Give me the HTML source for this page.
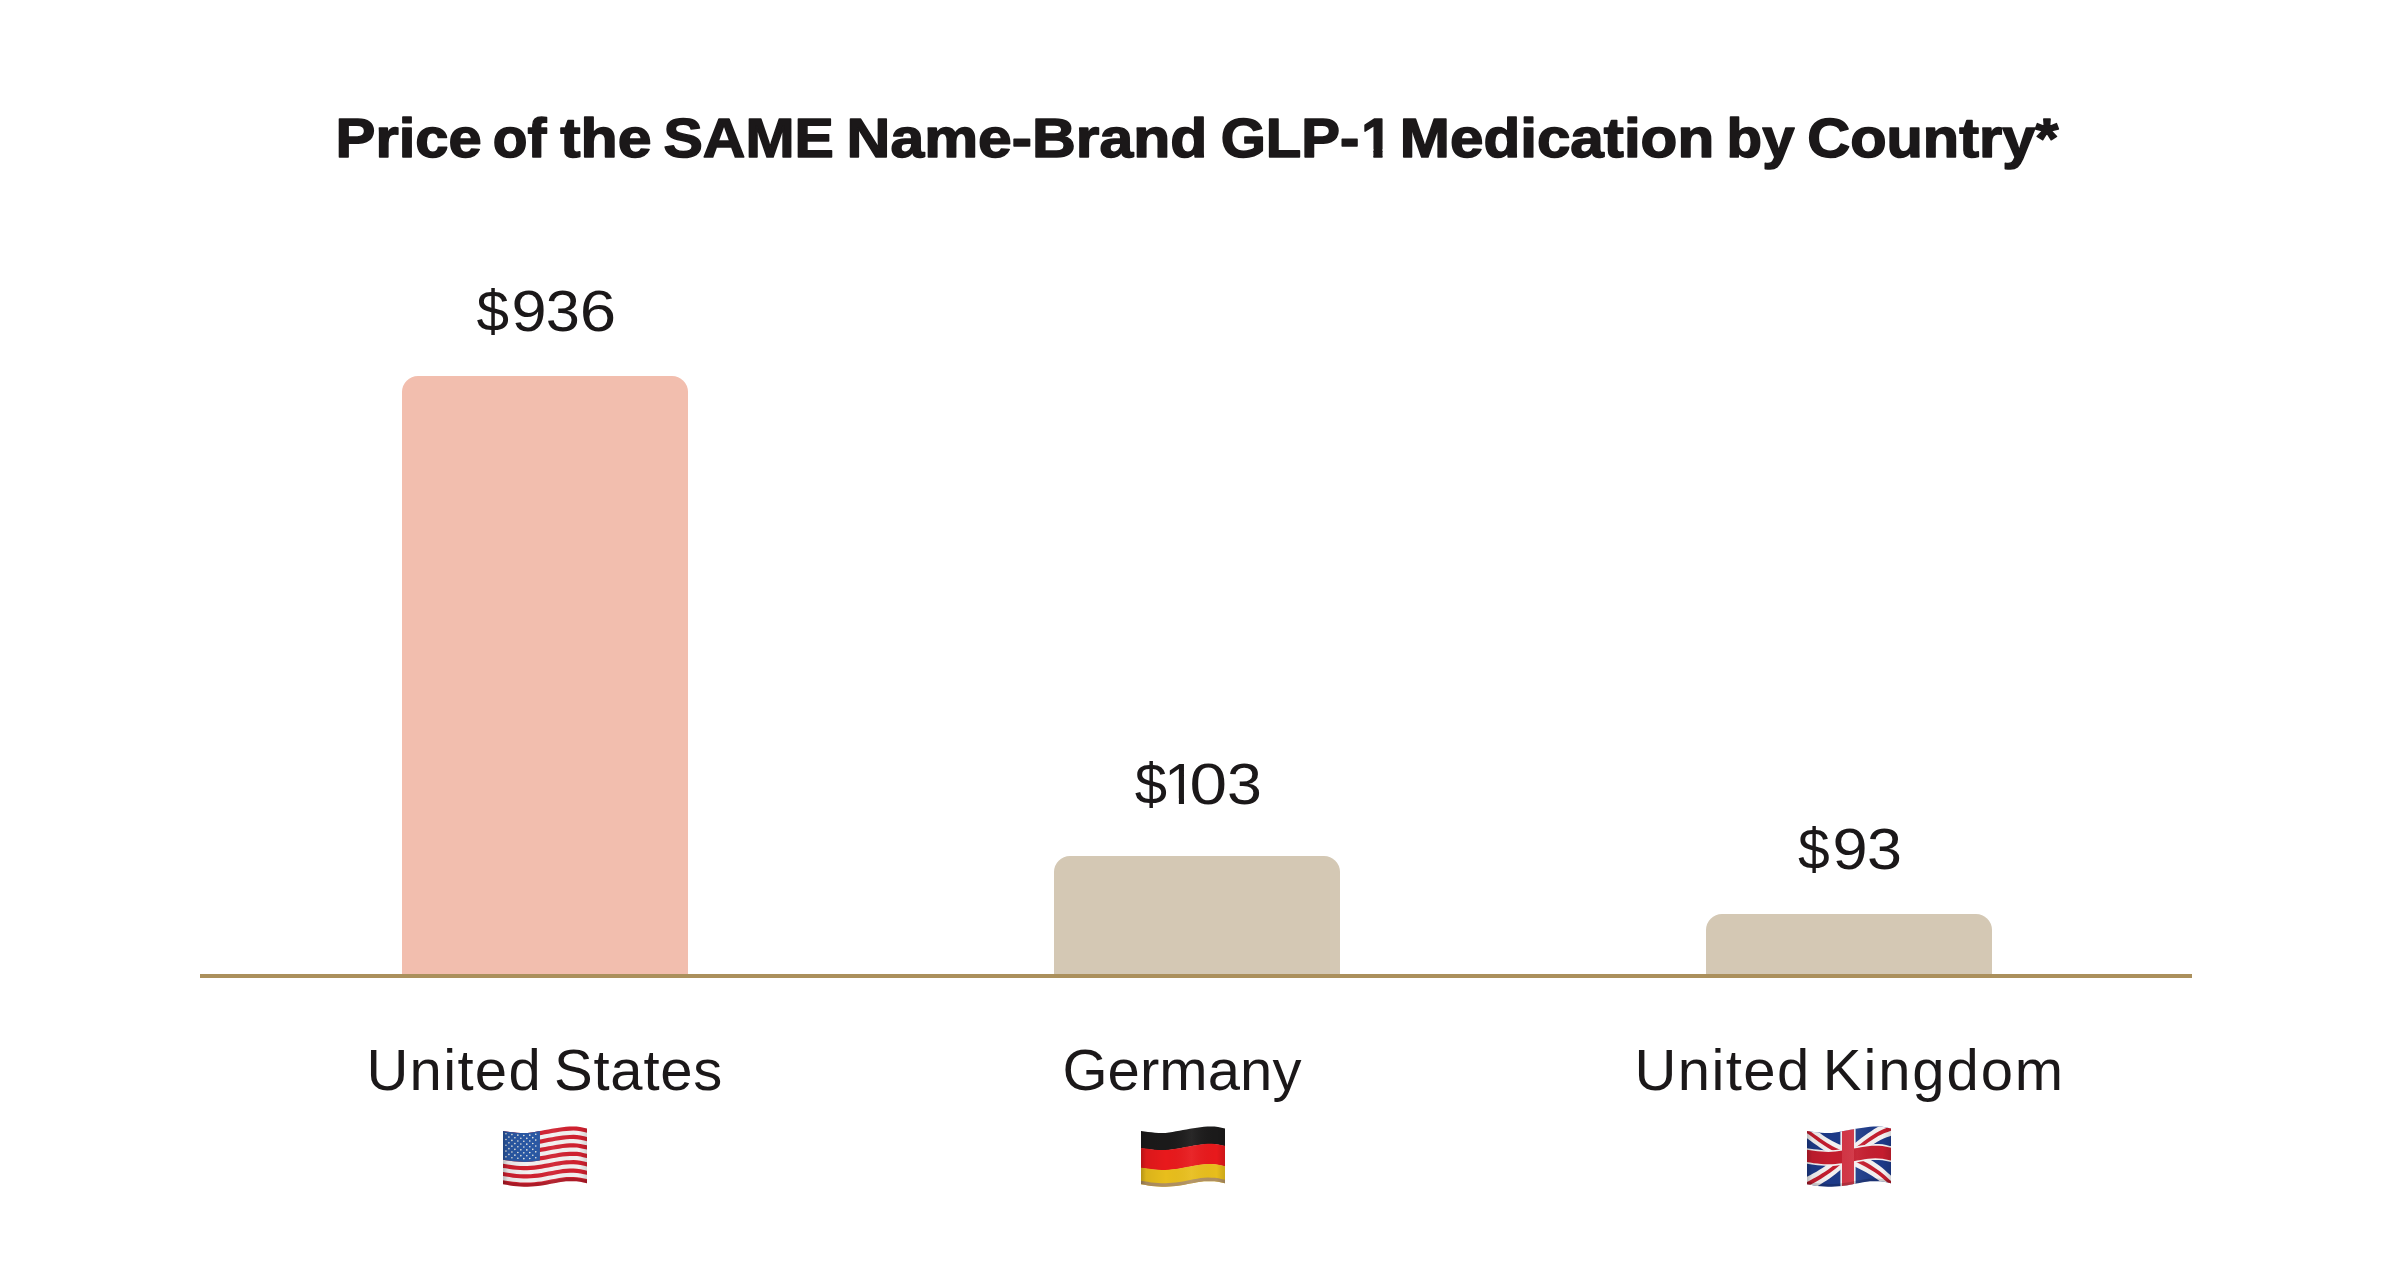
<!DOCTYPE html>
<html lang="en"><head><meta charset="utf-8"><title>Price of the SAME Name-Brand GLP-1 Medication by Country</title>
<style>
html,body{margin:0;padding:0;background:#ffffff;}
body{width:2396px;height:1282px;overflow:hidden;}
svg{display:block;}
text{font-family:"Liberation Sans",Arial,Helvetica,sans-serif;}
</style></head>
<body>
<svg width="2396" height="1282" viewBox="0 0 2396 1282">
<rect width="2396" height="1282" fill="#ffffff"/>
<defs><linearGradient id="shade" x1="0" y1="0" x2="1" y2="0"><stop offset="0" stop-color="#000" stop-opacity="0.22"/><stop offset="0.06" stop-color="#000" stop-opacity="0.06"/><stop offset="0.3" stop-color="#000" stop-opacity="0"/><stop offset="0.6" stop-color="#fff" stop-opacity="0.06"/><stop offset="0.9" stop-color="#000" stop-opacity="0"/><stop offset="1" stop-color="#000" stop-opacity="0.12"/></linearGradient><clipPath id="tc0"><path clip-rule="evenodd" d="M0 0H2396V1282H0Z M1362.5 149.3H1373.4V159.5H1362.5ZM1382.5 149.3H1393V159.5H1382.5Z"/></clipPath><clipPath id="tc1"><path clip-rule="evenodd" d="M0 0H2396V1282H0Z M1167.5 798.4H1178.88V805.5H1167.5ZM1184.01 798.4H1195V805.5H1184.01Z"/></clipPath><clipPath id="fc_us"><path d="M503 1131 L506.5 1131.47 L510 1131.95 L513.5 1132.36 L517 1132.67 L520.5 1132.94 L524 1133.07 L527.5 1132.97 L531 1132.58 L534.5 1131.99 L538 1131.34 L541.5 1130.73 L545 1130.08 L548.5 1129.43 L552 1128.8 L555.5 1128.23 L559 1127.66 L562.5 1127.17 L566 1126.81 L569.5 1126.53 L573 1126.4 L576.5 1126.47 L580 1126.92 L583.5 1127.7 L587 1128.5 L587 1132.15 L587 1135.81 L587 1139.46 L587 1143.11 L587 1146.77 L587 1150.42 L587 1154.07 L587 1157.73 L587 1161.38 L587 1165.03 L587 1168.69 L587 1172.34 L587 1175.99 L587 1179.65 L587 1183.3 L583.5 1182.56 L580 1181.83 L576.5 1181.36 L573 1181.18 L569.5 1181.16 L566 1181.32 L562.5 1181.69 L559 1182.27 L555.5 1182.95 L552 1183.6 L548.5 1184.28 L545 1184.98 L541.5 1185.59 L538 1186.03 L534.5 1186.35 L531 1186.58 L527.5 1186.69 L524 1186.68 L520.5 1186.54 L517 1186.29 L513.5 1185.93 L510 1185.44 L506.5 1184.86 L503 1184.3 L503 1180.75 L503 1177.19 L503 1173.64 L503 1170.09 L503 1166.53 L503 1162.98 L503 1159.43 L503 1155.87 L503 1152.32 L503 1148.77 L503 1145.21 L503 1141.66 L503 1138.11 L503 1134.55Z"/></clipPath><clipPath id="fc_de"><path d="M1141 1131 L1144.5 1131.47 L1148 1131.95 L1151.5 1132.36 L1155 1132.67 L1158.5 1132.94 L1162 1133.07 L1165.5 1132.97 L1169 1132.58 L1172.5 1131.99 L1176 1131.34 L1179.5 1130.73 L1183 1130.08 L1186.5 1129.43 L1190 1128.8 L1193.5 1128.23 L1197 1127.66 L1200.5 1127.17 L1204 1126.81 L1207.5 1126.53 L1211 1126.4 L1214.5 1126.47 L1218 1126.92 L1221.5 1127.7 L1225 1128.5 L1225 1132.15 L1225 1135.81 L1225 1139.46 L1225 1143.11 L1225 1146.77 L1225 1150.42 L1225 1154.07 L1225 1157.73 L1225 1161.38 L1225 1165.03 L1225 1168.69 L1225 1172.34 L1225 1175.99 L1225 1179.65 L1225 1183.3 L1221.5 1182.56 L1218 1181.83 L1214.5 1181.36 L1211 1181.18 L1207.5 1181.16 L1204 1181.32 L1200.5 1181.69 L1197 1182.27 L1193.5 1182.95 L1190 1183.6 L1186.5 1184.28 L1183 1184.98 L1179.5 1185.59 L1176 1186.03 L1172.5 1186.35 L1169 1186.58 L1165.5 1186.69 L1162 1186.68 L1158.5 1186.54 L1155 1186.29 L1151.5 1185.93 L1148 1185.44 L1144.5 1184.86 L1141 1184.3 L1141 1180.75 L1141 1177.19 L1141 1173.64 L1141 1170.09 L1141 1166.53 L1141 1162.98 L1141 1159.43 L1141 1155.87 L1141 1152.32 L1141 1148.77 L1141 1145.21 L1141 1141.66 L1141 1138.11 L1141 1134.55Z"/></clipPath><clipPath id="fc_uk"><path d="M1807 1131 L1810.5 1131.47 L1814 1131.95 L1817.5 1132.36 L1821 1132.67 L1824.5 1132.94 L1828 1133.07 L1831.5 1132.97 L1835 1132.58 L1838.5 1131.99 L1842 1131.34 L1845.5 1130.73 L1849 1130.08 L1852.5 1129.43 L1856 1128.8 L1859.5 1128.23 L1863 1127.66 L1866.5 1127.17 L1870 1126.81 L1873.5 1126.53 L1877 1126.4 L1880.5 1126.47 L1884 1126.92 L1887.5 1127.7 L1891 1128.5 L1891 1132.15 L1891 1135.81 L1891 1139.46 L1891 1143.11 L1891 1146.77 L1891 1150.42 L1891 1154.07 L1891 1157.73 L1891 1161.38 L1891 1165.03 L1891 1168.69 L1891 1172.34 L1891 1175.99 L1891 1179.65 L1891 1183.3 L1887.5 1182.56 L1884 1181.83 L1880.5 1181.36 L1877 1181.18 L1873.5 1181.16 L1870 1181.32 L1866.5 1181.69 L1863 1182.27 L1859.5 1182.95 L1856 1183.6 L1852.5 1184.28 L1849 1184.98 L1845.5 1185.59 L1842 1186.03 L1838.5 1186.35 L1835 1186.58 L1831.5 1186.69 L1828 1186.68 L1824.5 1186.54 L1821 1186.29 L1817.5 1185.93 L1814 1185.44 L1810.5 1184.86 L1807 1184.3 L1807 1180.75 L1807 1177.19 L1807 1173.64 L1807 1170.09 L1807 1166.53 L1807 1162.98 L1807 1159.43 L1807 1155.87 L1807 1152.32 L1807 1148.77 L1807 1145.21 L1807 1141.66 L1807 1138.11 L1807 1134.55Z"/></clipPath></defs>
<path d="M402 974 V392 A16 16 0 0 1 418 376 H672 A16 16 0 0 1 688 392 V974 Z" fill="#f2beae"/>
<path d="M1054 974 V872 A16 16 0 0 1 1070 856 H1324 A16 16 0 0 1 1340 872 V974 Z" fill="#d4c8b4"/>
<path d="M1706 974 V930 A16 16 0 0 1 1722 914 H1976 A16 16 0 0 1 1992 930 V974 Z" fill="#d4c8b4"/>
<rect x="200" y="974" width="1992" height="4" fill="#ab905c"/>
<text x="335.6" y="157.3" font-size="55.5" font-weight="700" fill="#1b1819" textLength="146.08" lengthAdjust="spacingAndGlyphs" stroke="#1b1819" stroke-width="1.5" stroke-linejoin="round">Price</text>
<text x="492.8" y="157.3" font-size="55.5" font-weight="700" fill="#1b1819" textLength="53.61" lengthAdjust="spacingAndGlyphs" stroke="#1b1819" stroke-width="1.5" stroke-linejoin="round">of</text>
<text x="560.2" y="157.3" font-size="55.5" font-weight="700" fill="#1b1819" textLength="91.31" lengthAdjust="spacingAndGlyphs" stroke="#1b1819" stroke-width="1.5" stroke-linejoin="round">the</text>
<text x="663.6" y="157.3" font-size="55.5" font-weight="700" fill="#1b1819" textLength="170.16" lengthAdjust="spacingAndGlyphs" stroke="#1b1819" stroke-width="1.5" stroke-linejoin="round">SAME</text>
<text x="846.6" y="157.3" font-size="55.5" font-weight="700" fill="#1b1819" textLength="360.7" lengthAdjust="spacingAndGlyphs" stroke="#1b1819" stroke-width="1.5" stroke-linejoin="round">Name-Brand</text>
<text y="157.3" font-size="55.5" font-weight="700" fill="#1b1819" stroke="#1b1819" stroke-width="1.5" stroke-linejoin="round" clip-path="url(#tc0)"><tspan x="1220.7" textLength="138.68" lengthAdjust="spacingAndGlyphs">GLP-</tspan><tspan x="1361.2">1</tspan></text>
<text x="1399.8" y="157.3" font-size="55.5" font-weight="700" fill="#1b1819" textLength="314.35" lengthAdjust="spacingAndGlyphs" stroke="#1b1819" stroke-width="1.5" stroke-linejoin="round">Medication</text>
<text x="1726.6" y="157.3" font-size="55.5" font-weight="700" fill="#1b1819" textLength="67.9" lengthAdjust="spacingAndGlyphs" stroke="#1b1819" stroke-width="1.5" stroke-linejoin="round">by</text>
<text x="1807.2" y="157.3" font-size="55.5" font-weight="700" fill="#1b1819" textLength="251.22" lengthAdjust="spacingAndGlyphs" stroke="#1b1819" stroke-width="1.5" stroke-linejoin="round">Country*</text>
<text y="330.5" font-size="58" font-weight="400" fill="#1b1819"><tspan x="476.5" textLength="32.53" lengthAdjust="spacingAndGlyphs">$</tspan><tspan x="511.4" textLength="35.1" lengthAdjust="spacingAndGlyphs">9</tspan><tspan x="545.8" textLength="34.13" lengthAdjust="spacingAndGlyphs">3</tspan><tspan x="579.7" textLength="36.38" lengthAdjust="spacingAndGlyphs">6</tspan></text>
<text y="804" font-size="58" font-weight="400" fill="#1b1819" clip-path="url(#tc1)"><tspan x="1134.7" textLength="32.26" lengthAdjust="spacingAndGlyphs">$</tspan><tspan x="1164.3">1</tspan><tspan x="1189.4" textLength="37.55" lengthAdjust="spacingAndGlyphs">0</tspan><tspan x="1227" textLength="34.89" lengthAdjust="spacingAndGlyphs">3</tspan></text>
<text y="868.5" font-size="58" font-weight="400" fill="#1b1819"><tspan x="1798" textLength="31.71" lengthAdjust="spacingAndGlyphs">$</tspan><tspan x="1832.6" textLength="35.1" lengthAdjust="spacingAndGlyphs">9</tspan><tspan x="1867" textLength="34.97" lengthAdjust="spacingAndGlyphs">3</tspan></text>
<text x="366.4" y="1090" font-size="58" font-weight="400" fill="#1b1819" textLength="174.28" lengthAdjust="spacing">United</text>
<text x="554" y="1090" font-size="58" font-weight="400" fill="#1b1819" textLength="168.36" lengthAdjust="spacing">States</text>
<text x="1062.4" y="1090" font-size="58" font-weight="400" fill="#1b1819" textLength="239.03" lengthAdjust="spacing">Germany</text>
<text x="1634.4" y="1090" font-size="58" font-weight="400" fill="#1b1819" textLength="174.8" lengthAdjust="spacing">United</text>
<text x="1822.8" y="1090" font-size="58" font-weight="400" fill="#1b1819" textLength="240.36" lengthAdjust="spacing">Kingdom</text>
<g clip-path="url(#fc_us)">
<path d="M498.8 1127.9 L502.35 1128.26 L505.91 1128.72 L509.46 1129.2 L513.02 1129.63 L516.57 1129.95 L520.12 1130.23 L523.68 1130.39 L527.23 1130.3 L530.78 1129.91 L534.34 1129.3 L537.89 1128.63 L541.45 1128 L545 1127.34 L548.55 1126.67 L552.11 1126.04 L555.66 1125.46 L559.22 1124.9 L562.77 1124.41 L566.32 1124.05 L569.88 1123.78 L573.43 1123.66 L576.98 1123.75 L580.54 1124.29 L584.09 1125.1 L587.65 1125.88 L591.2 1126.3 L591.2 1130.07 L591.2 1133.84 L591.2 1137.61 L591.2 1141.37 L591.2 1145.14 L591.2 1148.91 L591.2 1152.68 L591.2 1156.45 L591.2 1160.22 L591.2 1163.99 L591.2 1167.76 L591.2 1171.53 L591.2 1175.29 L591.2 1179.06 L591.2 1182.83 L591.2 1186.6 L587.65 1186.16 L584.09 1185.43 L580.54 1184.68 L576.98 1184.14 L573.43 1183.93 L569.88 1183.88 L566.32 1184.02 L562.77 1184.37 L559.22 1184.96 L555.66 1185.65 L552.11 1186.32 L548.55 1187.01 L545 1187.72 L541.45 1188.34 L537.89 1188.77 L534.34 1189.08 L530.78 1189.29 L527.23 1189.38 L523.68 1189.36 L520.12 1189.2 L516.57 1188.93 L513.02 1188.55 L509.46 1188.02 L505.91 1187.43 L502.35 1186.87 L498.8 1186.43 L498.8 1182.77 L498.8 1179.11 L498.8 1175.45 L498.8 1171.8 L498.8 1168.14 L498.8 1164.48 L498.8 1160.82 L498.8 1157.16 L498.8 1153.51 L498.8 1149.85 L498.8 1146.19 L498.8 1142.53 L498.8 1138.87 L498.8 1135.21 L498.8 1131.56Z" fill="#f2f0f0"/>
<path d="M498.8 1127.9 L502.35 1128.26 L505.91 1128.72 L509.46 1129.2 L513.02 1129.63 L516.57 1129.95 L520.12 1130.23 L523.68 1130.39 L527.23 1130.3 L530.78 1129.91 L534.34 1129.3 L537.89 1128.63 L541.45 1128 L545 1127.34 L548.55 1126.67 L552.11 1126.04 L555.66 1125.46 L559.22 1124.9 L562.77 1124.41 L566.32 1124.05 L569.88 1123.78 L573.43 1123.66 L576.98 1123.75 L580.54 1124.29 L584.09 1125.1 L587.65 1125.88 L591.2 1126.3 L591.2 1133.26 L587.65 1132.84 L584.09 1132.07 L580.54 1131.25 L576.98 1130.72 L573.43 1130.61 L569.88 1130.72 L566.32 1130.97 L562.77 1131.33 L559.22 1131.83 L555.66 1132.41 L552.11 1133 L548.55 1133.64 L545 1134.3 L541.45 1134.96 L537.89 1135.57 L534.34 1136.2 L530.78 1136.76 L527.23 1137.12 L523.68 1137.19 L520.12 1137.04 L516.57 1136.76 L513.02 1136.43 L509.46 1135.99 L505.91 1135.49 L502.35 1135.02 L498.8 1134.65Z" fill="#d0202f"/>
<path d="M498.8 1138.74 L502.35 1139.12 L505.91 1139.6 L509.46 1140.1 L513.02 1140.55 L516.57 1140.88 L520.12 1141.16 L523.68 1141.32 L527.23 1141.25 L530.78 1140.91 L534.34 1140.38 L537.89 1139.77 L541.45 1139.18 L545 1138.53 L548.55 1137.85 L552.11 1137.21 L555.66 1136.62 L559.22 1136.03 L562.77 1135.52 L566.32 1135.16 L569.88 1134.92 L573.43 1134.83 L576.98 1134.95 L580.54 1135.48 L584.09 1136.28 L587.65 1137.05 L591.2 1137.47 L591.2 1141.69 L587.65 1141.27 L584.09 1140.5 L580.54 1139.7 L576.98 1139.17 L573.43 1139.04 L569.88 1139.12 L566.32 1139.36 L562.77 1139.71 L559.22 1140.23 L555.66 1140.83 L552.11 1141.43 L548.55 1142.07 L545 1142.75 L541.45 1143.4 L537.89 1143.98 L534.34 1144.56 L530.78 1145.06 L527.23 1145.38 L523.68 1145.44 L520.12 1145.28 L516.57 1145.01 L513.02 1144.67 L509.46 1144.21 L505.91 1143.7 L502.35 1143.22 L498.8 1142.84Z" fill="#d0202f"/>
<path d="M498.8 1146.93 L502.35 1147.32 L505.91 1147.81 L509.46 1148.33 L513.02 1148.79 L516.57 1149.13 L520.12 1149.41 L523.68 1149.56 L527.23 1149.51 L530.78 1149.22 L534.34 1148.74 L537.89 1148.19 L541.45 1147.62 L545 1146.97 L548.55 1146.29 L552.11 1145.64 L555.66 1145.04 L559.22 1144.43 L562.77 1143.91 L566.32 1143.55 L569.88 1143.32 L573.43 1143.26 L576.98 1143.39 L580.54 1143.92 L584.09 1144.72 L587.65 1145.48 L591.2 1145.91 L591.2 1150.12 L587.65 1149.7 L584.09 1148.94 L580.54 1148.15 L576.98 1147.61 L573.43 1147.47 L569.88 1147.53 L566.32 1147.75 L562.77 1148.1 L559.22 1148.63 L555.66 1149.25 L552.11 1149.86 L548.55 1150.51 L545 1151.2 L541.45 1151.84 L537.89 1152.39 L534.34 1152.92 L530.78 1153.37 L527.23 1153.64 L523.68 1153.69 L520.12 1153.53 L516.57 1153.25 L513.02 1152.91 L509.46 1152.44 L505.91 1151.92 L502.35 1151.41 L498.8 1151.02Z" fill="#d0202f"/>
<path d="M498.8 1155.12 L502.35 1155.51 L505.91 1156.02 L509.46 1156.56 L513.02 1157.03 L516.57 1157.38 L520.12 1157.65 L523.68 1157.81 L527.23 1157.78 L530.78 1157.52 L534.34 1157.1 L537.89 1156.6 L541.45 1156.06 L545 1155.42 L548.55 1154.73 L552.11 1154.07 L555.66 1153.45 L559.22 1152.83 L562.77 1152.29 L566.32 1151.94 L569.88 1151.73 L573.43 1151.69 L576.98 1151.84 L580.54 1152.37 L584.09 1153.16 L587.65 1153.91 L591.2 1154.34 L591.2 1158.56 L587.65 1158.13 L584.09 1157.38 L580.54 1156.59 L576.98 1156.06 L573.43 1155.9 L569.88 1155.93 L566.32 1156.13 L562.77 1156.49 L559.22 1157.03 L555.66 1157.66 L552.11 1158.29 L548.55 1158.95 L545 1159.64 L541.45 1160.28 L537.89 1160.8 L534.34 1161.28 L530.78 1161.67 L527.23 1161.91 L523.68 1161.93 L520.12 1161.78 L516.57 1161.5 L513.02 1161.15 L509.46 1160.67 L505.91 1160.13 L502.35 1159.61 L498.8 1159.21Z" fill="#d0202f"/>
<path d="M498.8 1163.3 L502.35 1163.71 L505.91 1164.23 L509.46 1164.78 L513.02 1165.27 L516.57 1165.63 L520.12 1165.9 L523.68 1166.06 L527.23 1166.04 L530.78 1165.83 L534.34 1165.46 L537.89 1165.01 L541.45 1164.5 L545 1163.86 L548.55 1163.17 L552.11 1162.51 L555.66 1161.87 L559.22 1161.23 L562.77 1160.68 L566.32 1160.33 L569.88 1160.14 L573.43 1160.12 L576.98 1160.28 L580.54 1160.82 L584.09 1161.6 L587.65 1162.34 L591.2 1162.78 L591.2 1166.99 L587.65 1166.56 L584.09 1165.82 L580.54 1165.04 L576.98 1164.51 L573.43 1164.33 L569.88 1164.34 L566.32 1164.52 L562.77 1164.87 L559.22 1165.43 L555.66 1166.08 L552.11 1166.72 L548.55 1167.39 L545 1168.09 L541.45 1168.72 L537.89 1169.21 L534.34 1169.64 L530.78 1169.98 L527.23 1170.17 L523.68 1170.18 L520.12 1170.02 L516.57 1169.75 L513.02 1169.39 L509.46 1168.9 L505.91 1168.34 L502.35 1167.81 L498.8 1167.4Z" fill="#d0202f"/>
<path d="M498.8 1171.49 L502.35 1171.91 L505.91 1172.45 L509.46 1173.01 L513.02 1173.51 L516.57 1173.88 L520.12 1174.15 L523.68 1174.31 L527.23 1174.3 L530.78 1174.13 L534.34 1173.82 L537.89 1173.42 L541.45 1172.94 L545 1172.31 L548.55 1171.61 L552.11 1170.94 L555.66 1170.29 L559.22 1169.63 L562.77 1169.07 L566.32 1168.71 L569.88 1168.54 L573.43 1168.55 L576.98 1168.73 L580.54 1169.26 L584.09 1170.03 L587.65 1170.77 L591.2 1171.21 L591.2 1175.43 L587.65 1174.99 L584.09 1174.25 L580.54 1173.49 L576.98 1172.95 L573.43 1172.76 L569.88 1172.74 L566.32 1172.91 L562.77 1173.26 L559.22 1173.83 L555.66 1174.5 L552.11 1175.15 L548.55 1175.83 L545 1176.53 L541.45 1177.16 L537.89 1177.63 L534.34 1178 L530.78 1178.28 L527.23 1178.43 L523.68 1178.43 L520.12 1178.27 L516.57 1178 L513.02 1177.63 L509.46 1177.12 L505.91 1176.55 L502.35 1176.01 L498.8 1175.58Z" fill="#d0202f"/>
<path d="M498.8 1179.68 L502.35 1180.11 L505.91 1180.66 L509.46 1181.24 L513.02 1181.75 L516.57 1182.12 L520.12 1182.4 L523.68 1182.55 L527.23 1182.57 L530.78 1182.43 L534.34 1182.18 L537.89 1181.83 L541.45 1181.38 L545 1180.75 L548.55 1180.05 L552.11 1179.37 L555.66 1178.71 L559.22 1178.03 L562.77 1177.45 L566.32 1177.1 L569.88 1176.95 L573.43 1176.98 L576.98 1177.18 L580.54 1177.71 L584.09 1178.47 L587.65 1179.2 L591.2 1179.64 L591.2 1186.6 L587.65 1186.16 L584.09 1185.43 L580.54 1184.68 L576.98 1184.14 L573.43 1183.93 L569.88 1183.88 L566.32 1184.02 L562.77 1184.37 L559.22 1184.96 L555.66 1185.65 L552.11 1186.32 L548.55 1187.01 L545 1187.72 L541.45 1188.34 L537.89 1188.77 L534.34 1189.08 L530.78 1189.29 L527.23 1189.38 L523.68 1189.36 L520.12 1189.2 L516.57 1188.93 L513.02 1188.55 L509.46 1188.02 L505.91 1187.43 L502.35 1186.87 L498.8 1186.43Z" fill="#d0202f"/>
<path d="M498.8 1127.9 L502.54 1128.28 L506.28 1128.77 L510.03 1129.27 L513.77 1129.71 L517.51 1130.03 L521.25 1130.3 L524.99 1130.39 L528.73 1130.17 L532.48 1129.64 L536.22 1128.94 L539.96 1128.27 L539.96 1132.3 L539.96 1136.33 L539.96 1140.36 L539.96 1144.39 L539.96 1148.42 L539.96 1152.45 L539.96 1156.48 L539.96 1160.51 L536.22 1161.03 L532.48 1161.5 L528.73 1161.83 L524.99 1161.95 L521.25 1161.84 L517.51 1161.58 L513.77 1161.24 L510.03 1160.75 L506.28 1160.18 L502.54 1159.64 L498.8 1159.21 L498.8 1155.3 L498.8 1151.38 L498.8 1147.47 L498.8 1143.55 L498.8 1139.64 L498.8 1135.73 L498.8 1131.81Z" fill="#2a58a4"/>
<circle cx="505.94" cy="1133.79" r="0.8" fill="#f4f1e6"/>
<circle cx="511.9" cy="1134.59" r="0.8" fill="#f4f1e6"/>
<circle cx="517.87" cy="1135.16" r="0.8" fill="#f4f1e6"/>
<circle cx="523.83" cy="1135.48" r="0.8" fill="#f4f1e6"/>
<circle cx="529.8" cy="1135.16" r="0.8" fill="#f4f1e6"/>
<circle cx="535.76" cy="1134.21" r="0.8" fill="#f4f1e6"/>
<circle cx="508.92" cy="1137.09" r="0.8" fill="#f4f1e6"/>
<circle cx="514.89" cy="1137.8" r="0.8" fill="#f4f1e6"/>
<circle cx="520.85" cy="1138.27" r="0.8" fill="#f4f1e6"/>
<circle cx="526.81" cy="1138.33" r="0.8" fill="#f4f1e6"/>
<circle cx="532.78" cy="1137.66" r="0.8" fill="#f4f1e6"/>
<circle cx="505.94" cy="1139.56" r="0.8" fill="#f4f1e6"/>
<circle cx="511.9" cy="1140.38" r="0.8" fill="#f4f1e6"/>
<circle cx="517.87" cy="1140.95" r="0.8" fill="#f4f1e6"/>
<circle cx="523.83" cy="1141.27" r="0.8" fill="#f4f1e6"/>
<circle cx="529.8" cy="1140.98" r="0.8" fill="#f4f1e6"/>
<circle cx="535.76" cy="1140.09" r="0.8" fill="#f4f1e6"/>
<circle cx="508.92" cy="1142.87" r="0.8" fill="#f4f1e6"/>
<circle cx="514.89" cy="1143.59" r="0.8" fill="#f4f1e6"/>
<circle cx="520.85" cy="1144.06" r="0.8" fill="#f4f1e6"/>
<circle cx="526.81" cy="1144.13" r="0.8" fill="#f4f1e6"/>
<circle cx="532.78" cy="1143.51" r="0.8" fill="#f4f1e6"/>
<circle cx="505.94" cy="1145.32" r="0.8" fill="#f4f1e6"/>
<circle cx="511.9" cy="1146.16" r="0.8" fill="#f4f1e6"/>
<circle cx="517.87" cy="1146.74" r="0.8" fill="#f4f1e6"/>
<circle cx="523.83" cy="1147.06" r="0.8" fill="#f4f1e6"/>
<circle cx="529.8" cy="1146.8" r="0.8" fill="#f4f1e6"/>
<circle cx="535.76" cy="1145.98" r="0.8" fill="#f4f1e6"/>
<circle cx="508.92" cy="1148.64" r="0.8" fill="#f4f1e6"/>
<circle cx="514.89" cy="1149.37" r="0.8" fill="#f4f1e6"/>
<circle cx="520.85" cy="1149.84" r="0.8" fill="#f4f1e6"/>
<circle cx="526.81" cy="1149.92" r="0.8" fill="#f4f1e6"/>
<circle cx="532.78" cy="1149.36" r="0.8" fill="#f4f1e6"/>
<circle cx="505.94" cy="1151.09" r="0.8" fill="#f4f1e6"/>
<circle cx="511.9" cy="1151.94" r="0.8" fill="#f4f1e6"/>
<circle cx="517.87" cy="1152.53" r="0.8" fill="#f4f1e6"/>
<circle cx="523.83" cy="1152.85" r="0.8" fill="#f4f1e6"/>
<circle cx="529.8" cy="1152.62" r="0.8" fill="#f4f1e6"/>
<circle cx="535.76" cy="1151.86" r="0.8" fill="#f4f1e6"/>
<circle cx="508.92" cy="1154.42" r="0.8" fill="#f4f1e6"/>
<circle cx="514.89" cy="1155.16" r="0.8" fill="#f4f1e6"/>
<circle cx="520.85" cy="1155.63" r="0.8" fill="#f4f1e6"/>
<circle cx="526.81" cy="1155.72" r="0.8" fill="#f4f1e6"/>
<circle cx="532.78" cy="1155.21" r="0.8" fill="#f4f1e6"/>
<circle cx="505.94" cy="1156.85" r="0.8" fill="#f4f1e6"/>
<circle cx="511.9" cy="1157.72" r="0.8" fill="#f4f1e6"/>
<circle cx="517.87" cy="1158.32" r="0.8" fill="#f4f1e6"/>
<circle cx="523.83" cy="1158.64" r="0.8" fill="#f4f1e6"/>
<circle cx="529.8" cy="1158.44" r="0.8" fill="#f4f1e6"/>
<circle cx="535.76" cy="1157.75" r="0.8" fill="#f4f1e6"/>
<path d="M498.8 1180.58 L502.35 1181.01 L505.91 1181.56 L509.46 1182.14 L513.02 1182.66 L516.57 1183.03 L520.12 1183.3 L523.68 1183.46 L527.23 1183.47 L530.78 1183.35 L534.34 1183.1 L537.89 1182.76 L541.45 1182.3 L545 1181.68 L548.55 1180.98 L552.11 1180.29 L555.66 1179.63 L559.22 1178.95 L562.77 1178.38 L566.32 1178.02 L569.88 1177.87 L573.43 1177.9 L576.98 1178.1 L580.54 1178.64 L584.09 1179.4 L587.65 1180.13 L591.2 1180.57 L591.2 1186.6 L587.65 1186.16 L584.09 1185.43 L580.54 1184.68 L576.98 1184.14 L573.43 1183.93 L569.88 1183.88 L566.32 1184.02 L562.77 1184.37 L559.22 1184.96 L555.66 1185.65 L552.11 1186.32 L548.55 1187.01 L545 1187.72 L541.45 1188.34 L537.89 1188.77 L534.34 1189.08 L530.78 1189.29 L527.23 1189.38 L523.68 1189.36 L520.12 1189.2 L516.57 1188.93 L513.02 1188.55 L509.46 1188.02 L505.91 1187.43 L502.35 1186.87 L498.8 1186.43Z" fill="#000" opacity="0.16"/>
<path d="M503 1131 L506.5 1131.47 L510 1131.95 L513.5 1132.36 L517 1132.67 L520.5 1132.94 L524 1133.07 L527.5 1132.97 L531 1132.58 L534.5 1131.99 L538 1131.34 L541.5 1130.73 L545 1130.08 L548.5 1129.43 L552 1128.8 L555.5 1128.23 L559 1127.66 L562.5 1127.17 L566 1126.81 L569.5 1126.53 L573 1126.4 L576.5 1126.47 L580 1126.92 L583.5 1127.7 L587 1128.5 L587 1132.15 L587 1135.81 L587 1139.46 L587 1143.11 L587 1146.77 L587 1150.42 L587 1154.07 L587 1157.73 L587 1161.38 L587 1165.03 L587 1168.69 L587 1172.34 L587 1175.99 L587 1179.65 L587 1183.3 L583.5 1182.56 L580 1181.83 L576.5 1181.36 L573 1181.18 L569.5 1181.16 L566 1181.32 L562.5 1181.69 L559 1182.27 L555.5 1182.95 L552 1183.6 L548.5 1184.28 L545 1184.98 L541.5 1185.59 L538 1186.03 L534.5 1186.35 L531 1186.58 L527.5 1186.69 L524 1186.68 L520.5 1186.54 L517 1186.29 L513.5 1185.93 L510 1185.44 L506.5 1184.86 L503 1184.3 L503 1180.75 L503 1177.19 L503 1173.64 L503 1170.09 L503 1166.53 L503 1162.98 L503 1159.43 L503 1155.87 L503 1152.32 L503 1148.77 L503 1145.21 L503 1141.66 L503 1138.11 L503 1134.55Z" fill="url(#shade)" opacity="1"/>
</g>
<g clip-path="url(#fc_de)">
<path d="M1136.8 1127.9 L1140.35 1128.26 L1143.91 1128.72 L1147.46 1129.2 L1151.02 1129.63 L1154.57 1129.95 L1158.12 1130.23 L1161.68 1130.39 L1165.23 1130.3 L1168.78 1129.91 L1172.34 1129.3 L1175.89 1128.63 L1179.45 1128 L1183 1127.34 L1186.55 1126.67 L1190.11 1126.04 L1193.66 1125.46 L1197.22 1124.9 L1200.77 1124.41 L1204.32 1124.05 L1207.88 1123.78 L1211.43 1123.66 L1214.98 1123.75 L1218.54 1124.29 L1222.09 1125.1 L1225.65 1125.88 L1229.2 1126.3 L1229.2 1130.39 L1229.2 1134.48 L1229.2 1138.57 L1229.2 1142.66 L1229.2 1146.75 L1225.65 1146.32 L1222.09 1145.56 L1218.54 1144.76 L1214.98 1144.23 L1211.43 1144.1 L1207.88 1144.16 L1204.32 1144.39 L1200.77 1144.74 L1197.22 1145.26 L1193.66 1145.87 L1190.11 1146.48 L1186.55 1147.13 L1183 1147.81 L1179.45 1148.46 L1175.89 1149.02 L1172.34 1149.57 L1168.78 1150.04 L1165.23 1150.33 L1161.68 1150.38 L1158.12 1150.23 L1154.57 1149.95 L1151.02 1149.61 L1147.46 1149.15 L1143.91 1148.63 L1140.35 1148.13 L1136.8 1147.75 L1136.8 1143.78 L1136.8 1139.81 L1136.8 1135.84 L1136.8 1131.87Z" fill="#1b1a1a"/>
<path d="M1136.8 1147.43 L1140.35 1147.81 L1143.91 1148.31 L1147.46 1148.83 L1151.02 1149.29 L1154.57 1149.63 L1158.12 1149.91 L1161.68 1150.06 L1165.23 1150.01 L1168.78 1149.72 L1172.34 1149.25 L1175.89 1148.69 L1179.45 1148.13 L1183 1147.48 L1186.55 1146.8 L1190.11 1146.15 L1193.66 1145.55 L1197.22 1144.93 L1200.77 1144.41 L1204.32 1144.06 L1207.88 1143.83 L1211.43 1143.77 L1214.98 1143.9 L1218.54 1144.43 L1222.09 1145.23 L1225.65 1145.99 L1229.2 1146.42 L1229.2 1150.54 L1229.2 1154.66 L1229.2 1158.79 L1229.2 1162.91 L1229.2 1167.03 L1225.65 1166.6 L1222.09 1165.85 L1218.54 1165.08 L1214.98 1164.54 L1211.43 1164.37 L1207.88 1164.38 L1204.32 1164.56 L1200.77 1164.91 L1197.22 1165.47 L1193.66 1166.12 L1190.11 1166.76 L1186.55 1167.43 L1183 1168.12 L1179.45 1168.76 L1175.89 1169.25 L1172.34 1169.68 L1168.78 1170.01 L1165.23 1170.21 L1161.68 1170.22 L1158.12 1170.06 L1154.57 1169.79 L1151.02 1169.43 L1147.46 1168.93 L1143.91 1168.38 L1140.35 1167.85 L1136.8 1167.43 L1136.8 1163.43 L1136.8 1159.43 L1136.8 1155.43 L1136.8 1151.43Z" fill="#e8191c"/>
<path d="M1136.8 1167.11 L1140.35 1167.53 L1143.91 1168.06 L1147.46 1168.61 L1151.02 1169.11 L1154.57 1169.47 L1158.12 1169.74 L1161.68 1169.9 L1165.23 1169.89 L1168.78 1169.69 L1172.34 1169.35 L1175.89 1168.92 L1179.45 1168.43 L1183 1167.79 L1186.55 1167.1 L1190.11 1166.43 L1193.66 1165.79 L1197.22 1165.14 L1200.77 1164.59 L1204.32 1164.23 L1207.88 1164.05 L1211.43 1164.04 L1214.98 1164.22 L1218.54 1164.75 L1222.09 1165.52 L1225.65 1166.27 L1229.2 1166.7 L1229.2 1170.71 L1229.2 1174.73 L1229.2 1178.74 L1229.2 1182.75 L1229.2 1186.77 L1225.65 1186.32 L1222.09 1185.6 L1218.54 1184.84 L1214.98 1184.31 L1211.43 1184.1 L1207.88 1184.05 L1204.32 1184.18 L1200.77 1184.54 L1197.22 1185.12 L1193.66 1185.82 L1190.11 1186.49 L1186.55 1187.18 L1183 1187.88 L1179.45 1188.5 L1175.89 1188.93 L1172.34 1189.24 L1168.78 1189.45 L1165.23 1189.54 L1161.68 1189.52 L1158.12 1189.36 L1154.57 1189.09 L1151.02 1188.71 L1147.46 1188.18 L1143.91 1187.59 L1140.35 1187.03 L1136.8 1186.59 L1136.8 1182.69 L1136.8 1178.8 L1136.8 1174.9 L1136.8 1171.01Z" fill="#e8be1c"/>
<path d="M1136.8 1180.31 L1140.35 1180.74 L1143.91 1181.29 L1147.46 1181.87 L1151.02 1182.39 L1154.57 1182.76 L1158.12 1183.03 L1161.68 1183.19 L1165.23 1183.21 L1168.78 1183.08 L1172.34 1182.83 L1175.89 1182.48 L1179.45 1182.03 L1183 1181.41 L1186.55 1180.7 L1190.11 1180.02 L1193.66 1179.36 L1197.22 1178.68 L1200.77 1178.1 L1204.32 1177.75 L1207.88 1177.6 L1211.43 1177.63 L1214.98 1177.83 L1218.54 1178.36 L1222.09 1179.13 L1225.65 1179.86 L1229.2 1180.3 L1229.2 1186.6 L1225.65 1186.16 L1222.09 1185.43 L1218.54 1184.68 L1214.98 1184.14 L1211.43 1183.93 L1207.88 1183.88 L1204.32 1184.02 L1200.77 1184.37 L1197.22 1184.96 L1193.66 1185.65 L1190.11 1186.32 L1186.55 1187.01 L1183 1187.72 L1179.45 1188.34 L1175.89 1188.77 L1172.34 1189.08 L1168.78 1189.29 L1165.23 1189.38 L1161.68 1189.36 L1158.12 1189.2 L1154.57 1188.93 L1151.02 1188.55 L1147.46 1188.02 L1143.91 1187.43 L1140.35 1186.87 L1136.8 1186.43Z" fill="#b09060"/>
<path d="M1141 1131 L1144.5 1131.47 L1148 1131.95 L1151.5 1132.36 L1155 1132.67 L1158.5 1132.94 L1162 1133.07 L1165.5 1132.97 L1169 1132.58 L1172.5 1131.99 L1176 1131.34 L1179.5 1130.73 L1183 1130.08 L1186.5 1129.43 L1190 1128.8 L1193.5 1128.23 L1197 1127.66 L1200.5 1127.17 L1204 1126.81 L1207.5 1126.53 L1211 1126.4 L1214.5 1126.47 L1218 1126.92 L1221.5 1127.7 L1225 1128.5 L1225 1132.15 L1225 1135.81 L1225 1139.46 L1225 1143.11 L1225 1146.77 L1225 1150.42 L1225 1154.07 L1225 1157.73 L1225 1161.38 L1225 1165.03 L1225 1168.69 L1225 1172.34 L1225 1175.99 L1225 1179.65 L1225 1183.3 L1221.5 1182.56 L1218 1181.83 L1214.5 1181.36 L1211 1181.18 L1207.5 1181.16 L1204 1181.32 L1200.5 1181.69 L1197 1182.27 L1193.5 1182.95 L1190 1183.6 L1186.5 1184.28 L1183 1184.98 L1179.5 1185.59 L1176 1186.03 L1172.5 1186.35 L1169 1186.58 L1165.5 1186.69 L1162 1186.68 L1158.5 1186.54 L1155 1186.29 L1151.5 1185.93 L1148 1185.44 L1144.5 1184.86 L1141 1184.3 L1141 1180.75 L1141 1177.19 L1141 1173.64 L1141 1170.09 L1141 1166.53 L1141 1162.98 L1141 1159.43 L1141 1155.87 L1141 1152.32 L1141 1148.77 L1141 1145.21 L1141 1141.66 L1141 1138.11 L1141 1134.55Z" fill="url(#shade)" opacity="1"/>
</g>
<g clip-path="url(#fc_uk)">
<path d="M1803 1124.66 L1806.62 1125.03 L1810.23 1125.5 L1813.85 1125.98 L1817.46 1126.4 L1821.08 1126.72 L1824.69 1126.99 L1828.31 1127.12 L1831.92 1126.96 L1835.54 1126.49 L1839.15 1125.82 L1842.77 1125.13 L1846.38 1124.47 L1850 1123.8 L1853.62 1123.13 L1857.23 1122.52 L1860.85 1121.93 L1864.46 1121.38 L1868.08 1120.93 L1871.69 1120.6 L1875.31 1120.37 L1878.92 1120.31 L1882.54 1120.57 L1886.15 1121.29 L1889.77 1122.15 L1893.38 1122.8 L1897 1122.91 L1897 1126.64 L1897 1130.36 L1897 1134.09 L1897 1137.82 L1897 1141.54 L1897 1145.27 L1897 1149 L1897 1152.72 L1897 1156.45 L1897 1160.18 L1897 1163.9 L1897 1167.63 L1897 1171.36 L1897 1175.08 L1897 1178.81 L1897 1182.54 L1897 1186.26 L1897 1189.99 L1893.38 1189.77 L1889.77 1189.14 L1886.15 1188.36 L1882.54 1187.69 L1878.92 1187.35 L1875.31 1187.22 L1871.69 1187.28 L1868.08 1187.54 L1864.46 1188.07 L1860.85 1188.76 L1857.23 1189.47 L1853.62 1190.15 L1850 1190.88 L1846.38 1191.54 L1842.77 1192.02 L1839.15 1192.34 L1835.54 1192.55 L1831.92 1192.66 L1828.31 1192.65 L1824.69 1192.51 L1821.08 1192.25 L1817.46 1191.88 L1813.85 1191.35 L1810.23 1190.75 L1806.62 1190.16 L1803 1189.7 L1803 1186.09 L1803 1182.47 L1803 1178.86 L1803 1175.25 L1803 1171.63 L1803 1168.02 L1803 1164.41 L1803 1160.79 L1803 1157.18 L1803 1153.57 L1803 1149.95 L1803 1146.34 L1803 1142.73 L1803 1139.11 L1803 1135.5 L1803 1131.89 L1803 1128.27Z" fill="#1d3a88"/>
<path d="M1805.1 1122.48 L1808.12 1124.65 L1811.13 1126.87 L1814.15 1129.09 L1817.16 1131.27 L1820.18 1133.37 L1823.19 1135.44 L1826.21 1137.44 L1829.22 1139.31 L1832.23 1141 L1835.25 1142.51 L1838.26 1143.91 L1841.28 1145.27 L1844.29 1146.66 L1847.31 1148 L1850.32 1149.3 L1853.34 1150.59 L1856.35 1151.91 L1854.2 1155.88 L1852.05 1159.88 L1849.9 1163.88 L1846.88 1162.57 L1843.87 1161.2 L1840.85 1159.76 L1837.84 1158.31 L1834.82 1156.82 L1831.81 1155.23 L1828.79 1153.48 L1825.78 1151.58 L1822.77 1149.57 L1819.75 1147.49 L1816.74 1145.37 L1813.72 1143.16 L1810.71 1140.91 L1807.69 1138.68 L1804.68 1136.5 L1801.66 1134.42 L1798.65 1132.5 L1800.8 1129.09 L1802.95 1125.75Z" fill="#f3f1f1"/>
<path d="M1899.3 1131.04 L1896.16 1133.28 L1893.02 1134.93 L1889.88 1136.2 L1886.74 1137.32 L1883.61 1138.51 L1880.47 1139.98 L1877.33 1141.74 L1874.19 1143.65 L1871.05 1145.67 L1867.91 1147.8 L1864.77 1150.05 L1861.63 1152.42 L1858.49 1154.83 L1855.35 1157.23 L1852.21 1159.68 L1849.07 1162.14 L1845.93 1164.57 L1843.85 1161.26 L1841.77 1157.94 L1839.7 1154.63 L1842.84 1152.31 L1845.98 1149.96 L1849.12 1147.52 L1852.26 1145.07 L1855.39 1142.64 L1858.53 1140.25 L1861.67 1137.87 L1864.81 1135.53 L1867.95 1133.29 L1871.09 1131.16 L1874.23 1129.1 L1877.37 1127.16 L1880.51 1125.38 L1883.65 1123.91 L1886.79 1122.73 L1889.93 1121.63 L1893.07 1120.35 L1895.15 1124.16 L1897.23 1127.74Z" fill="#f3f1f1"/>
<path d="M1892.51 1192.18 L1889.57 1189.62 L1886.62 1186.97 L1883.68 1184.36 L1880.74 1181.95 L1877.8 1179.76 L1874.86 1177.69 L1871.92 1175.76 L1868.97 1173.96 L1866.03 1172.3 L1863.09 1170.78 L1860.15 1169.32 L1857.21 1167.85 L1854.27 1166.37 L1851.33 1164.93 L1848.38 1163.48 L1845.44 1161.98 L1842.5 1160.41 L1839.56 1158.81 L1841.87 1155.02 L1844.18 1151.2 L1846.49 1147.32 L1849.43 1148.79 L1852.38 1150.25 L1855.32 1151.71 L1858.26 1153.22 L1861.2 1154.7 L1864.14 1156.2 L1867.08 1157.78 L1870.03 1159.49 L1872.97 1161.31 L1875.91 1163.26 L1878.85 1165.34 L1881.79 1167.57 L1884.73 1170.07 L1887.67 1172.72 L1890.62 1175.37 L1893.56 1177.87 L1896.5 1180.07 L1899.44 1181.84 L1897.13 1185.56 L1894.82 1188.98Z" fill="#f3f1f1"/>
<path d="M1798.52 1181.97 L1801.51 1180 L1804.5 1178.21 L1807.49 1176.54 L1810.47 1174.92 L1813.46 1173.3 L1816.45 1171.64 L1819.44 1169.87 L1822.43 1168.03 L1825.41 1166.12 L1828.4 1164.12 L1831.39 1161.98 L1834.38 1159.68 L1837.37 1157.23 L1840.35 1154.69 L1843.34 1152.1 L1846.33 1149.47 L1849.32 1146.77 L1851.71 1149.74 L1854.09 1152.71 L1856.48 1155.71 L1853.49 1158.4 L1850.5 1161.13 L1847.51 1163.84 L1844.53 1166.49 L1841.54 1169.04 L1838.55 1171.52 L1835.56 1173.93 L1832.57 1176.21 L1829.59 1178.38 L1826.6 1180.42 L1823.61 1182.36 L1820.62 1184.23 L1817.63 1186.02 L1814.65 1187.7 L1811.66 1189.31 L1808.67 1190.9 L1805.68 1192.52 L1803.29 1188.9 L1800.91 1185.37Z" fill="#f3f1f1"/>
<path d="M1802.87 1125.89 L1805.88 1128 L1808.9 1130.19 L1811.91 1132.42 L1814.92 1134.65 L1817.94 1136.81 L1820.95 1138.9 L1823.97 1140.96 L1826.98 1142.94 L1830 1144.77 L1833.01 1146.42 L1836.03 1147.92 L1839.04 1149.33 L1842.05 1150.73 L1845.07 1152.12 L1848.08 1153.46 L1851.1 1154.75 L1854.11 1156.04 L1852.13 1159.71 L1849.12 1158.43 L1846.1 1157.11 L1843.09 1155.72 L1840.08 1154.31 L1837.06 1152.88 L1834.05 1151.39 L1831.03 1149.78 L1828.02 1148.01 L1825 1146.07 L1821.99 1144.04 L1818.97 1141.95 L1815.96 1139.81 L1812.95 1137.6 L1809.93 1135.36 L1806.92 1133.14 L1803.9 1130.99 L1800.89 1128.95Z" fill="#c41d2e"/>
<path d="M1897.14 1127.6 L1894 1129.42 L1890.86 1130.78 L1887.72 1131.93 L1884.58 1133.07 L1881.44 1134.42 L1878.3 1136.12 L1875.16 1138 L1872.02 1140 L1868.89 1142.1 L1865.75 1144.31 L1862.61 1146.64 L1859.47 1149.04 L1856.33 1151.43 L1853.19 1153.86 L1850.05 1156.32 L1846.91 1158.76 L1843.77 1161.13 L1841.86 1158.07 L1845 1155.75 L1848.14 1153.34 L1851.28 1150.89 L1854.42 1148.44 L1857.56 1146.04 L1860.7 1143.65 L1863.84 1141.27 L1866.98 1138.99 L1870.11 1136.84 L1873.25 1134.76 L1876.39 1132.79 L1879.53 1130.97 L1882.67 1129.38 L1885.81 1128.14 L1888.95 1127.03 L1892.09 1125.83 L1895.23 1124.31Z" fill="#c41d2e"/>
<path d="M1894.91 1188.85 L1891.97 1186.46 L1889.03 1183.87 L1886.09 1181.21 L1883.15 1178.63 L1880.2 1176.27 L1877.26 1174.11 L1874.32 1172.08 L1871.38 1170.18 L1868.44 1168.41 L1865.5 1166.78 L1862.55 1165.26 L1859.61 1163.8 L1856.67 1162.32 L1853.73 1160.84 L1850.79 1159.39 L1847.85 1157.94 L1844.9 1156.43 L1841.96 1154.86 L1844.09 1151.35 L1847.03 1152.87 L1849.97 1154.33 L1852.91 1155.78 L1855.85 1157.25 L1858.8 1158.75 L1861.74 1160.22 L1864.68 1161.72 L1867.62 1163.31 L1870.56 1165.05 L1873.5 1166.9 L1876.45 1168.89 L1879.39 1171 L1882.33 1173.28 L1885.27 1175.82 L1888.21 1178.48 L1891.15 1181.11 L1894.1 1183.56 L1897.04 1185.7Z" fill="#c41d2e"/>
<path d="M1801 1185.51 L1803.99 1183.7 L1806.98 1182.01 L1809.97 1180.4 L1812.96 1178.79 L1815.94 1177.15 L1818.93 1175.41 L1821.92 1173.57 L1824.91 1171.68 L1827.9 1169.7 L1830.88 1167.59 L1833.87 1165.33 L1836.86 1162.94 L1839.85 1160.44 L1842.84 1157.88 L1845.83 1155.27 L1848.81 1152.58 L1851.8 1149.86 L1854 1152.59 L1851.01 1155.31 L1848.02 1158.03 L1845.03 1160.7 L1842.04 1163.28 L1839.06 1165.8 L1836.07 1168.25 L1833.08 1170.59 L1830.09 1172.79 L1827.1 1174.85 L1824.12 1176.81 L1821.13 1178.69 L1818.14 1180.5 L1815.15 1182.2 L1812.16 1183.83 L1809.17 1185.42 L1806.19 1187.04 L1803.2 1188.75Z" fill="#c41d2e"/>
<path d="M1840.4 1125.58 L1844.2 1124.88 L1848 1124.17 L1851.8 1123.46 L1855.6 1122.78 L1855.6 1126.5 L1855.6 1130.22 L1855.6 1133.94 L1855.6 1137.66 L1855.6 1141.39 L1855.6 1145.11 L1855.6 1148.83 L1855.6 1152.55 L1855.6 1156.27 L1855.6 1159.99 L1855.6 1163.71 L1855.6 1167.44 L1855.6 1171.16 L1855.6 1174.88 L1855.6 1178.6 L1855.6 1182.32 L1855.6 1186.04 L1855.6 1189.76 L1851.8 1190.52 L1848 1191.26 L1844.2 1191.86 L1840.4 1192.25 L1840.4 1188.54 L1840.4 1184.84 L1840.4 1181.13 L1840.4 1177.43 L1840.4 1173.73 L1840.4 1170.02 L1840.4 1166.32 L1840.4 1162.62 L1840.4 1158.91 L1840.4 1155.21 L1840.4 1151.5 L1840.4 1147.8 L1840.4 1144.1 L1840.4 1140.39 L1840.4 1136.69 L1840.4 1132.98 L1840.4 1129.28Z" fill="#f3f1f1"/>
<path d="M1803 1147.72 L1806.62 1148.12 L1810.23 1148.63 L1813.85 1149.16 L1817.46 1149.62 L1821.08 1149.95 L1824.69 1150.22 L1828.31 1150.35 L1831.92 1150.25 L1835.54 1149.91 L1839.15 1149.41 L1842.77 1148.84 L1846.38 1148.25 L1850 1147.58 L1853.62 1146.89 L1857.23 1146.25 L1860.85 1145.62 L1864.46 1145.02 L1868.08 1144.55 L1871.69 1144.24 L1875.31 1144.07 L1878.92 1144.08 L1882.54 1144.37 L1886.15 1145.07 L1889.77 1145.9 L1893.38 1146.55 L1897 1146.69 L1897 1150.68 L1897 1154.67 L1897 1158.66 L1897 1162.65 L1893.38 1162.48 L1889.77 1161.84 L1886.15 1161.02 L1882.54 1160.33 L1878.92 1160.03 L1875.31 1159.97 L1871.69 1160.1 L1868.08 1160.4 L1864.46 1160.89 L1860.85 1161.52 L1857.23 1162.18 L1853.62 1162.83 L1850 1163.54 L1846.38 1164.21 L1842.77 1164.76 L1839.15 1165.23 L1835.54 1165.63 L1831.92 1165.88 L1828.31 1165.94 L1824.69 1165.81 L1821.08 1165.54 L1817.46 1165.19 L1813.85 1164.71 L1810.23 1164.15 L1806.62 1163.62 L1803 1163.19 L1803 1159.32 L1803 1155.46 L1803 1151.59Z" fill="#f3f1f1"/>
<path d="M1803 1149.3 L1806.62 1149.7 L1810.23 1150.21 L1813.85 1150.74 L1817.46 1151.21 L1821.08 1151.54 L1824.69 1151.81 L1828.31 1151.94 L1831.92 1151.85 L1835.54 1151.51 L1839.15 1151.02 L1842.77 1150.47 L1846.38 1149.88 L1850 1149.21 L1853.62 1148.52 L1857.23 1147.88 L1860.85 1147.24 L1864.46 1146.64 L1868.08 1146.16 L1871.69 1145.86 L1875.31 1145.69 L1878.92 1145.71 L1882.54 1146 L1886.15 1146.69 L1889.77 1147.52 L1893.38 1148.17 L1897 1148.32 L1897 1152.55 L1897 1156.79 L1897 1161.02 L1893.38 1160.86 L1889.77 1160.21 L1886.15 1159.4 L1882.54 1158.71 L1878.92 1158.41 L1875.31 1158.35 L1871.69 1158.48 L1868.08 1158.78 L1864.46 1159.27 L1860.85 1159.9 L1857.23 1160.56 L1853.62 1161.21 L1850 1161.91 L1846.38 1162.58 L1842.77 1163.14 L1839.15 1163.62 L1835.54 1164.03 L1831.92 1164.29 L1828.31 1164.35 L1824.69 1164.22 L1821.08 1163.95 L1817.46 1163.61 L1813.85 1163.13 L1810.23 1162.57 L1806.62 1162.04 L1803 1161.62 L1803 1157.51 L1803 1153.4Z" fill="#c41d2e"/>
<path d="M1842 1125.27 L1846 1124.55 L1850 1123.8 L1854 1123.06 L1854 1126.78 L1854 1130.51 L1854 1134.23 L1854 1137.95 L1854 1141.67 L1854 1145.4 L1854 1149.12 L1854 1152.84 L1854 1156.57 L1854 1160.29 L1854 1164.01 L1854 1167.74 L1854 1171.46 L1854 1175.18 L1854 1178.9 L1854 1182.63 L1854 1186.35 L1854 1190.07 L1850 1190.88 L1846 1191.6 L1842 1192.1 L1842 1188.39 L1842 1184.67 L1842 1180.96 L1842 1177.25 L1842 1173.54 L1842 1169.82 L1842 1166.11 L1842 1162.4 L1842 1158.68 L1842 1154.97 L1842 1151.26 L1842 1147.55 L1842 1143.83 L1842 1140.12 L1842 1136.41 L1842 1132.69 L1842 1128.98Z" fill="#d33444"/>
<path d="M1802.8 1181.11 L1806.35 1181.54 L1809.91 1182.09 L1813.46 1182.68 L1817.02 1183.19 L1820.57 1183.57 L1824.12 1183.84 L1827.68 1184 L1831.23 1184.01 L1834.78 1183.89 L1838.34 1183.65 L1841.89 1183.3 L1845.45 1182.85 L1849 1182.23 L1852.55 1181.53 L1856.11 1180.84 L1859.66 1180.18 L1863.22 1179.5 L1866.77 1178.92 L1870.32 1178.57 L1873.88 1178.42 L1877.43 1178.45 L1880.98 1178.65 L1884.54 1179.19 L1888.09 1179.95 L1891.65 1180.68 L1895.2 1181.12 L1895.2 1186.6 L1891.65 1186.16 L1888.09 1185.43 L1884.54 1184.68 L1880.98 1184.14 L1877.43 1183.93 L1873.88 1183.88 L1870.32 1184.02 L1866.77 1184.37 L1863.22 1184.96 L1859.66 1185.65 L1856.11 1186.32 L1852.55 1187.01 L1849 1187.72 L1845.45 1188.34 L1841.89 1188.77 L1838.34 1189.08 L1834.78 1189.29 L1831.23 1189.38 L1827.68 1189.36 L1824.12 1189.2 L1820.57 1188.93 L1817.02 1188.55 L1813.46 1188.02 L1809.91 1187.43 L1806.35 1186.87 L1802.8 1186.43Z" fill="#000" opacity="0.16"/>
<path d="M1807 1131 L1810.5 1131.47 L1814 1131.95 L1817.5 1132.36 L1821 1132.67 L1824.5 1132.94 L1828 1133.07 L1831.5 1132.97 L1835 1132.58 L1838.5 1131.99 L1842 1131.34 L1845.5 1130.73 L1849 1130.08 L1852.5 1129.43 L1856 1128.8 L1859.5 1128.23 L1863 1127.66 L1866.5 1127.17 L1870 1126.81 L1873.5 1126.53 L1877 1126.4 L1880.5 1126.47 L1884 1126.92 L1887.5 1127.7 L1891 1128.5 L1891 1132.15 L1891 1135.81 L1891 1139.46 L1891 1143.11 L1891 1146.77 L1891 1150.42 L1891 1154.07 L1891 1157.73 L1891 1161.38 L1891 1165.03 L1891 1168.69 L1891 1172.34 L1891 1175.99 L1891 1179.65 L1891 1183.3 L1887.5 1182.56 L1884 1181.83 L1880.5 1181.36 L1877 1181.18 L1873.5 1181.16 L1870 1181.32 L1866.5 1181.69 L1863 1182.27 L1859.5 1182.95 L1856 1183.6 L1852.5 1184.28 L1849 1184.98 L1845.5 1185.59 L1842 1186.03 L1838.5 1186.35 L1835 1186.58 L1831.5 1186.69 L1828 1186.68 L1824.5 1186.54 L1821 1186.29 L1817.5 1185.93 L1814 1185.44 L1810.5 1184.86 L1807 1184.3 L1807 1180.75 L1807 1177.19 L1807 1173.64 L1807 1170.09 L1807 1166.53 L1807 1162.98 L1807 1159.43 L1807 1155.87 L1807 1152.32 L1807 1148.77 L1807 1145.21 L1807 1141.66 L1807 1138.11 L1807 1134.55Z" fill="url(#shade)" opacity="1"/>
</g>
</svg>
</body></html>
